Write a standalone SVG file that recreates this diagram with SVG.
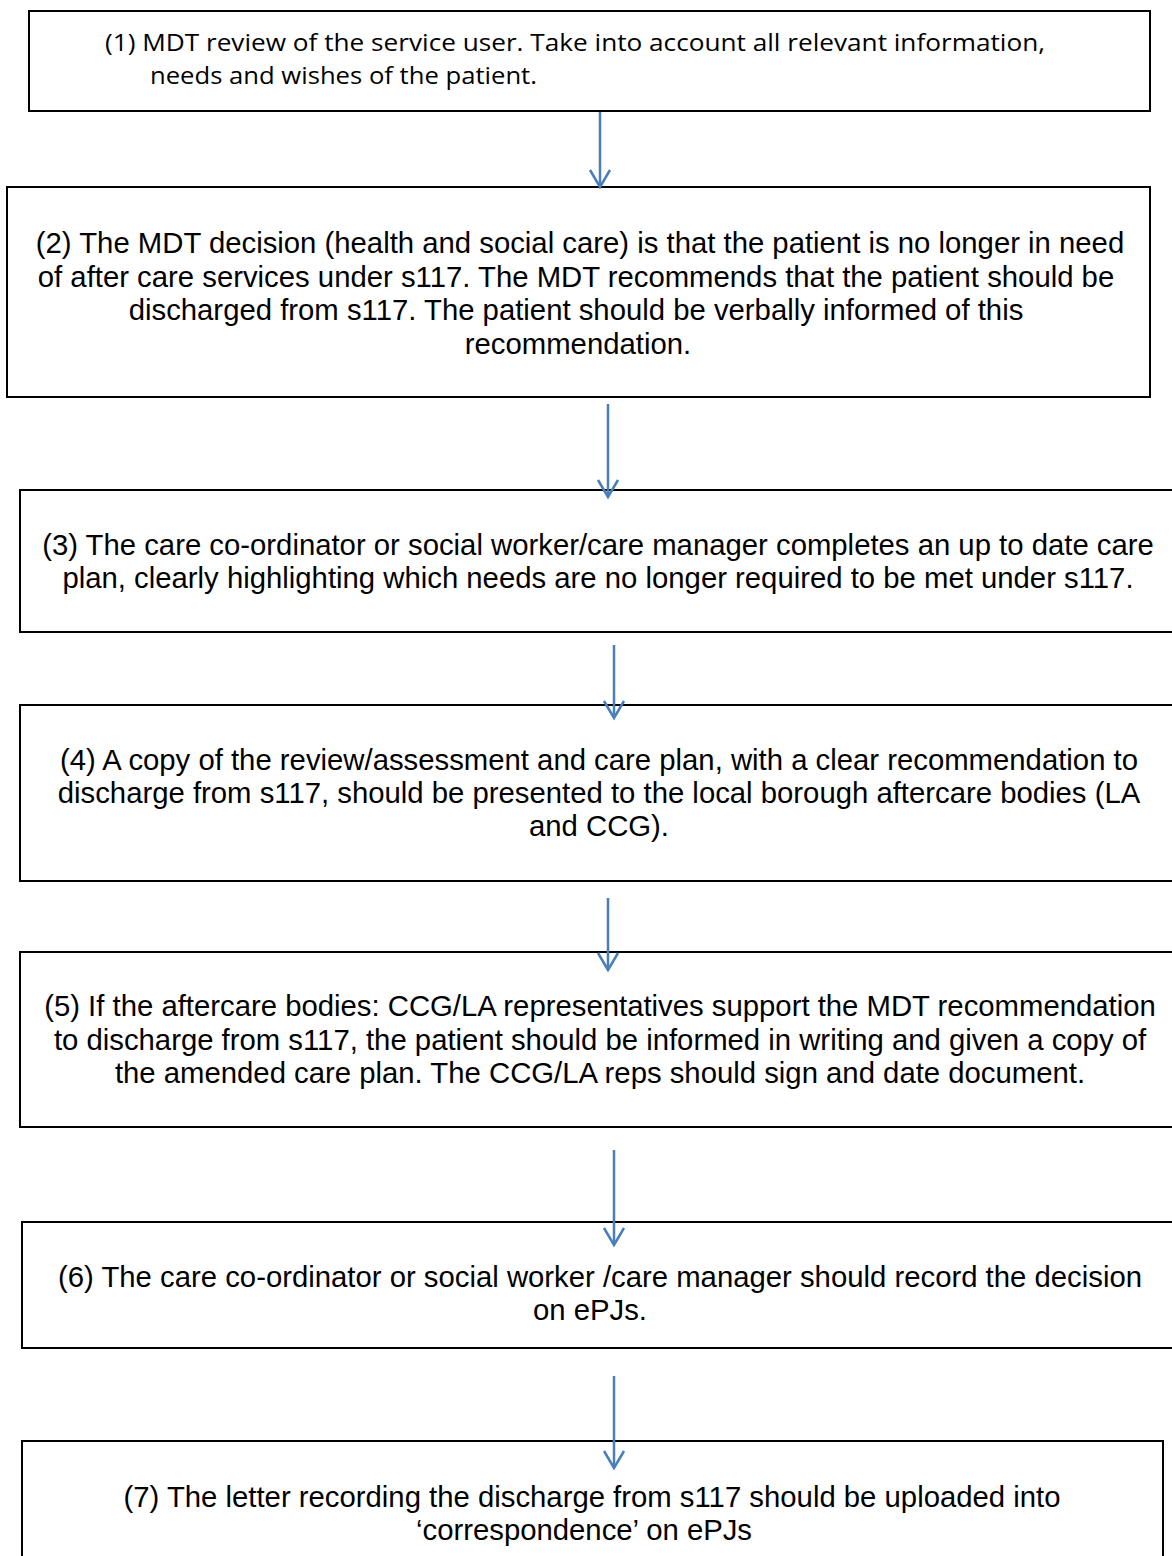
<svg xmlns="http://www.w3.org/2000/svg" width="1172" height="1556" viewBox="0 0 1172 1556">
<style>
.box{fill:#fff;stroke:#000;stroke-width:2}
.t{font-family:"Liberation Sans",Arial,sans-serif;font-size:29.3px;fill:#000;text-anchor:middle}
.c{font-family:"Open Sans","Noto Sans",sans-serif;font-size:23.5px;fill:#000}
.ln{stroke:#4a7ebb;stroke-width:2.5;fill:none}
.hd{stroke:#4a7ebb;stroke-width:2.5;fill:none;stroke-linejoin:miter}
</style>
<rect width="1172" height="1556" fill="#fff"/>
<g id="n1">
<rect class="box" x="29" y="11" width="1121" height="100"/>
<text class="c" x="105" y="51" textLength="940" lengthAdjust="spacingAndGlyphs">(1) MDT review of the service user. Take into account all relevant information,</text>
<text class="c" x="150" y="84" textLength="387" lengthAdjust="spacingAndGlyphs">needs and wishes of the patient.</text>
</g>
<g id="n2">
<rect class="box" x="7" y="187" width="1143" height="210"/>
<text class="t" x="580" y="253">(2) The MDT decision (health and social care) is that the patient is no longer in need</text>
<text class="t" x="576" y="287">of after care services under s117. The MDT recommends that the patient should be</text>
<text class="t" x="576" y="320">discharged from s117. The patient should be verbally informed of this</text>
<text class="t" x="578" y="354">recommendation.</text>
</g>
<g id="n3">
<rect class="box" x="20" y="490" width="1170" height="142"/>
<text class="t" x="598" y="555">(3) The care co-ordinator or social worker/care manager completes an up to date care</text>
<text class="t" x="598" y="588">plan, clearly highlighting which needs are no longer required to be met under s117.</text>
</g>
<g id="n4">
<rect class="box" x="20" y="705" width="1170" height="176"/>
<text class="t" x="599" y="770">(4) A copy of the review/assessment and care plan, with a clear recommendation to</text>
<text class="t" x="599" y="803">discharge from s117, should be presented to the local borough aftercare bodies (LA</text>
<text class="t" x="599" y="836">and CCG).</text>
</g>
<g id="n5">
<rect class="box" x="20" y="952" width="1170" height="175"/>
<text class="t" x="600" y="1016">(5) If the aftercare bodies: CCG/LA representatives support the MDT recommendation</text>
<text class="t" x="600" y="1050">to discharge from s117, the patient should be informed in writing and given a copy of</text>
<text class="t" x="600" y="1083">the amended care plan. The CCG/LA reps should sign and date document.</text>
</g>
<g id="n6">
<rect class="box" x="22" y="1222" width="1170" height="126"/>
<text class="t" x="600" y="1287">(6) The care co-ordinator or social worker /care manager should record the decision</text>
<text class="t" x="590" y="1320">on ePJs.</text>
</g>
<g id="n7">
<rect class="box" x="22" y="1441" width="1141" height="130"/>
<text class="t" x="592" y="1507">(7) The letter recording the discharge from s117 should be uploaded into</text>
<text class="t" x="584" y="1540">‘correspondence’ on ePJs</text>
</g>
<g id="connectors">
<line class="ln" x1="600" y1="112" x2="600" y2="186"/>
<polyline class="hd" points="590,170 600,187 610,170"/>
<line class="ln" x1="608" y1="404" x2="608" y2="496"/>
<polyline class="hd" points="598,480 608,497 618,480"/>
<line class="ln" x1="614" y1="645" x2="614" y2="717"/>
<polyline class="hd" points="604,701 614,718 624,701"/>
<line class="ln" x1="608" y1="898" x2="608" y2="969"/>
<polyline class="hd" points="598,953 608,970 618,953"/>
<line class="ln" x1="614" y1="1150" x2="614" y2="1244"/>
<polyline class="hd" points="604,1228 614,1245 624,1228"/>
<line class="ln" x1="614" y1="1376" x2="614" y2="1467"/>
<polyline class="hd" points="604,1451 614,1468 624,1451"/>
</g>
</svg>
